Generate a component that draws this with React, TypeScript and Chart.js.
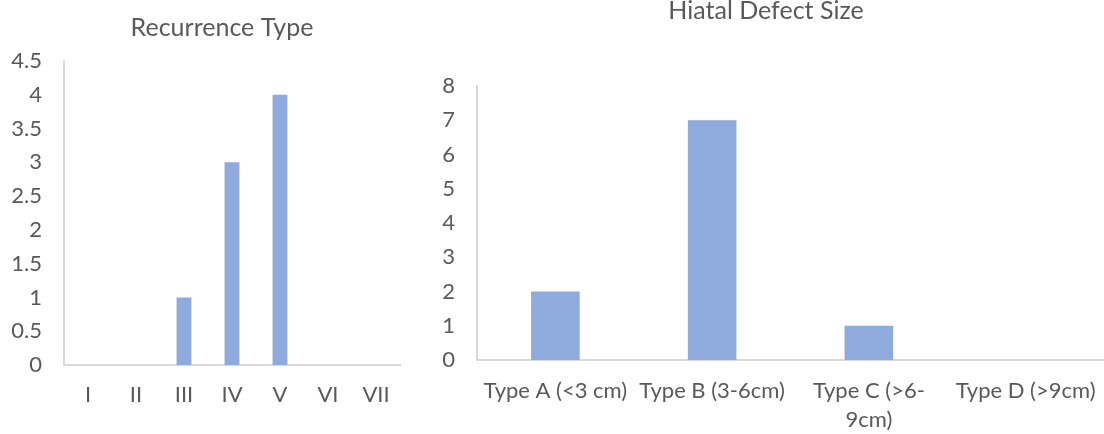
import React, { useEffect, useRef } from "react";
import { Chart, registerables } from "chart.js";

Chart.register(...registerables);

const recurrenceLabels = ["I", "II", "III", "IV", "V", "VI", "VII"];
const recurrenceValues = [0, 0, 1, 3, 4, 0, 0];

const defectLabels: (string | string[])[] = [
  "Type A (<3 cm)",
  "Type B (3-6cm)",
  ["Type C (>6-", "9cm)"],
  "Type D (>9cm)",
];
const defectValues = [2, 7, 1, 0];

const FONT = "Lato, 'Liberation Sans', sans-serif";
const TEXT = "#595959";
const AXIS = "#d9d9d9";
const BAR = "#8faadc";

type Cfg = {
  labels: (string | string[])[];
  values: number[];
  title: string;
  width: number;
  height: number;
  padLeft: number;
  xPadRight: number;
  titleTop: number;
  titleBottom: number;
  yWidth: number;
  xHeight: number;
  yMax: number;
  yStep: number;
  xPad: number;
};

function BarChart({ cfg }: { cfg: Cfg }) {
  const ref = useRef<HTMLCanvasElement | null>(null);
  useEffect(() => {
    if (!ref.current) return;
    const chart = new Chart(ref.current, {
      type: "bar",
      data: {
        labels: cfg.labels,
        datasets: [
          {
            data: cfg.values,
            backgroundColor: BAR,
            borderWidth: 0,
            barPercentage: 0.31,
            categoryPercentage: 1,
          },
        ],
      },
      options: {
        responsive: false,
        animation: false,
        layout: { padding: { left: cfg.padLeft, right: 0, top: 0, bottom: 0 } },
        plugins: {
          legend: { display: false },
          tooltip: { enabled: false },
          title: {
            display: true,
            text: cfg.title,
            color: TEXT,
            font: { family: FONT, size: 25, weight: "normal" },
            padding: { top: cfg.titleTop, bottom: cfg.titleBottom },
          },
        },
        scales: {
          x: {
            grid: { display: false, drawTicks: false },
            border: { display: true, color: AXIS, width: 2 },
            ticks: {
              color: TEXT,
              font: { family: FONT, size: 22, lineHeight: 1.3 },
              padding: cfg.xPad,
              autoSkip: false,
              maxRotation: 0,
              minRotation: 0,
            },
            afterFit: (s: any) => {
              s.height = cfg.xHeight;
              s.paddingLeft = 0;
              s.paddingRight = cfg.xPadRight;
            },
          },
          y: {
            min: 0,
            max: cfg.yMax,
            grid: { display: false, drawTicks: false },
            border: { display: true, color: AXIS, width: 2 },
            ticks: {
              stepSize: cfg.yStep,
              color: TEXT,
              font: { family: FONT, size: 22 },
              padding: 22,
              autoSkip: false,
              callback: (v: any) => String(Number(v)),
            },
            afterFit: (s: any) => {
              s.width = cfg.yWidth;
              s.paddingTop = 0;
              s.paddingBottom = 0;
            },
          },
        },
      },
    });
    return () => chart.destroy();
  }, [cfg]);
  return (
    <canvas
      ref={ref}
      width={cfg.width}
      height={cfg.height}
      style={{ width: cfg.width, height: cfg.height, display: "block" }}
    />
  );
}

const leftCfg: Cfg = {
  labels: recurrenceLabels,
  values: recurrenceValues,
  title: "Recurrence Type",
  width: 440,
  height: 434,
  padLeft: 4,
  xPadRight: 40,
  titleTop: 13,
  titleBottom: 18,
  yWidth: 60,
  xHeight: 69,
  yMax: 4.5,
  yStep: 0.5,
  xPad: 16,
};

const rightCfg: Cfg = {
  labels: defectLabels,
  values: defectValues,
  title: "Hiatal Defect Size",
  width: 684,
  height: 438,
  padLeft: 8,
  xPadRight: 0,
  titleTop: 0,
  titleBottom: 60,
  yWidth: 49,
  xHeight: 74,
  yMax: 8,
  yStep: 1,
  xPad: 17,
};

export default function App() {
  return (
    <div
      style={{
        position: "absolute",
        left: 0,
        top: 0,
        width: 1104,
        height: 434,
        overflow: "hidden",
        background: "#ffffff",
      }}
    >
      <div style={{ position: "absolute", left: 420, top: -4 }}>
        <BarChart cfg={rightCfg} />
      </div>
      <div style={{ position: "absolute", left: 0, top: 0, width: 420, height: 434, overflow: "hidden" }}>
        <BarChart cfg={leftCfg} />
      </div>
    </div>
  );
}
